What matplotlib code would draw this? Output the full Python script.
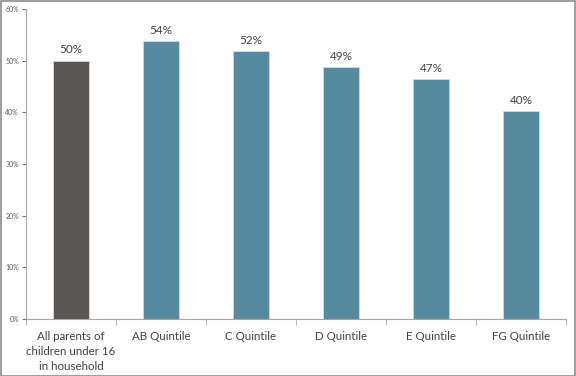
import matplotlib
matplotlib.use("Agg")
import matplotlib.pyplot as plt
import numpy as np

plt.rcParams['font.family'] = ['Lato', 'DejaVu Sans']

# Datos
categories = ['All parents of\nchildren under 16\nin household', 'AB Quintile',
              'C Quintile', 'D Quintile', 'E Quintile', 'FG Quintile']
values = [50.0, 53.8, 51.8, 48.7, 46.5, 40.3]
labels = ['50%', '54%', '52%', '49%', '47%', '40%']
bar_colors = ['#595654', '#568A9F', '#568A9F', '#568A9F', '#568A9F', '#568A9F']

fig = plt.figure(figsize=(5.76, 3.76), dpi=100)
ax = fig.add_axes([0.045, 0.152, 0.938, 0.824])

x = np.arange(len(categories))
ax.bar(x, values, width=0.4, color=bar_colors, edgecolor='#d9d9d9', linewidth=0.6, zorder=2)

for xi, v, lab in zip(x, values, labels):
    ax.text(xi, v + 1.0, lab, ha='center', va='bottom', fontsize=8.5, color='#404040')

ax.set_xlim(-0.5, len(categories) - 0.5)
ax.set_ylim(0, 60)
ax.set_yticks(np.arange(0, 61, 10))
ax.set_yticklabels(['{}%'.format(t) for t in range(0, 61, 10)])
ax.tick_params(axis='y', labelsize=5, colors='#595959', length=3, width=0.6, pad=2)

# ticks del eje x entre categorias
ax.set_xticks(np.arange(-0.5, len(categories), 1.0))
ax.set_xticklabels([])
ax.set_xticks(x, minor=True)
ax.set_xticklabels(categories, minor=True, fontsize=8.3, color='#404040', linespacing=1.4)
ax.tick_params(axis='x', which='major', length=4, width=0.6, color='#a6a6a6')
ax.tick_params(axis='x', which='minor', length=0, pad=9)

for side in ['top', 'right']:
    ax.spines[side].set_visible(False)
for side in ['left', 'bottom']:
    ax.spines[side].set_color('#a6a6a6')
    ax.spines[side].set_linewidth(0.8)

# marco gris del grafico
fig.patches.append(plt.Rectangle((0.001, 0.001), 0.997, 0.996, transform=fig.transFigure,
                                 fill=False, edgecolor='#8c8c8c', linewidth=1.2))

fig.savefig('out.png', dpi=100)
